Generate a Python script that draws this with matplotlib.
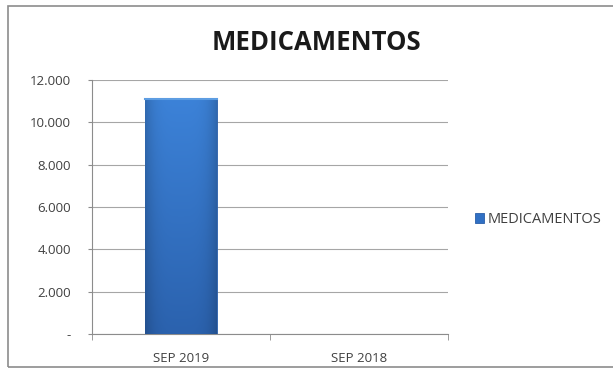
import matplotlib
matplotlib.use('Agg')
import matplotlib.pyplot as plt
import numpy as np
from matplotlib.patches import Rectangle
from matplotlib.colors import to_rgb

# Datos
categorias = ['SEP 2019', 'SEP 2018']
valores = [11100, 0]
serie = 'MEDICAMENTOS'
yticks = [0, 2000, 4000, 6000, 8000, 10000, 12000]
ytick_labels = ['-', '2.000', '4.000', '6.000', '8.000', '10.000', '12.000']

plt.rcParams['font.family'] = ['Open Sans', 'DejaVu Sans']

fig = plt.figure(figsize=(6.13, 3.73), dpi=100)
ax = fig.add_axes([0.150, 0.1046, 0.581, 0.681])

# Marco del gráfico
fig.patches.append(Rectangle((8 / 613, 6 / 373), 1.0, 361 / 373, transform=fig.transFigure,
                             fill=False, edgecolor='#8c8c8c', linewidth=1.2))

x = np.arange(len(categorias))
barras = ax.bar(x, valores, width=0.40, color='#3070c4', edgecolor='#2a5ea8',
                linewidth=0.6, zorder=3, label=serie)

# Degradado: más claro arriba, más oscuro abajo y en los bordes
arriba = np.array(to_rgb('#3c82d8'))
abajo = np.array(to_rgb('#2b62ae'))
t = np.linspace(0, 1, 128)[:, None, None]
img = abajo + (arriba - abajo) * t
bordes = 1 - 0.18 * np.abs(np.linspace(-1, 1, 64)) ** 4
img = img * bordes[None, :, None]
for b in barras:
    if b.get_height() <= 0:
        continue
    x0, w, h = b.get_x(), b.get_width(), b.get_height()
    im = ax.imshow(np.clip(img, 0, 1), aspect='auto', origin='lower',
                   extent=[x0, x0 + w, 0, h], zorder=3.5)
    im.set_clip_path(b)
    ax.plot([x0, x0 + w], [h, h], color='#5d9de2', linewidth=1.5, zorder=4)

ax.set_xlim(-0.5, 1.5)
ax.set_ylim(0, 12000)
ax.set_yticks(yticks)
ax.set_yticklabels(ytick_labels)
ax.set_xticks(x)
ax.set_xticklabels(categorias)
ax.set_xticks([-0.5, 0.5, 1.5], minor=True)

ax.tick_params(axis='x', which='major', length=0, labelsize=9.5, colors='#404040', pad=13)
ax.tick_params(axis='x', which='minor', length=4, color='#8c8c8c', direction='out')
ax.tick_params(axis='y', length=3, color='#8c8c8c', labelsize=9.5, colors='#404040', pad=12)

ax.grid(axis='y', color='#a6a6a6', linewidth=0.8, zorder=0)
for s in ['top', 'right']:
    ax.spines[s].set_visible(False)
for s in ['left', 'bottom']:
    ax.spines[s].set_color('#8c8c8c')
    ax.spines[s].set_linewidth(0.8)

fig.text(0.517, 0.885, 'MEDICAMENTOS', ha='center', va='center', fontsize=18.5,
         fontweight='bold', color='#1a1a1a')

ax.legend(loc='center left', bbox_to_anchor=(1.075, 0.45), frameon=False, fontsize=10.5,
          handlelength=0.6, handleheight=0.6, handletextpad=0.25, labelcolor='#404040',
          borderpad=0, borderaxespad=0)

fig.savefig('out.png', dpi=100)
